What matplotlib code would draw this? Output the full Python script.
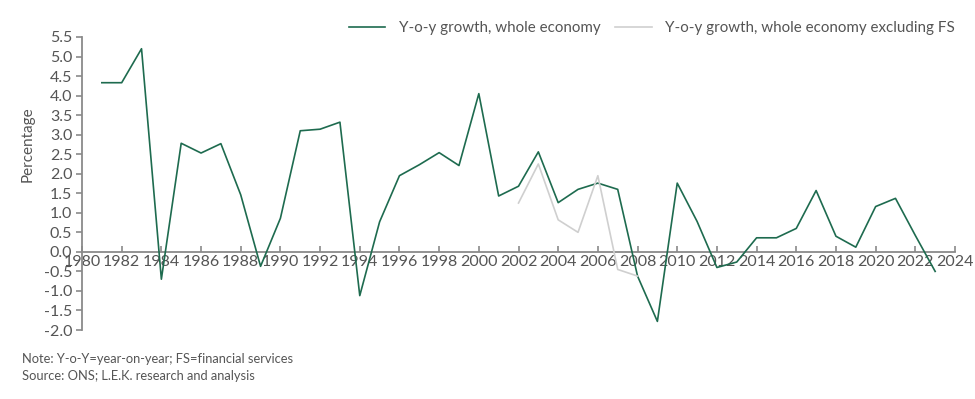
import matplotlib

matplotlib.use("Agg")
import matplotlib.pyplot as plt
import numpy as np

# data
years = list(range(1981, 2024))
whole = [4.33, 4.33, 5.2, -0.7, 2.78, 2.53, 2.77, 1.46, -0.37, 0.86,
         3.1, 3.14, 3.32, -1.12, 0.77, 1.95, 2.23, 2.54, 2.21, 4.05,
         1.43, 1.68, 2.56, 1.26, 1.6, 1.76, 1.6, -0.62, -1.78, 1.76,
         0.78, -0.4, -0.26, 0.36, 0.36, 0.6, 1.57, 0.4, 0.12, 1.16,
         1.37, 0.42, -0.5]
years_ex = list(range(2002, 2009))
excl_fs = [1.25, 2.25, 0.82, 0.5, 1.95, -0.45, -0.62]

xticks = list(range(1980, 2025, 2))
yticks = np.arange(-2.0, 5.51, 0.5)

green = '#1e6b4f'
grey = '#cfcfcf'
txt = '#555555'
axcol = '#8a8a8a'

plt.rcParams['font.family'] = ['Lato', 'DejaVu Sans']

fig = plt.figure(figsize=(9.75, 3.99), dpi=100)
ax = fig.add_axes([82 / 975, 1 - 330 / 399, (955 - 82) / 975, (330 - 37) / 399])

ax.plot(years, whole, color=green, lw=1.2, zorder=3,
        label='Y-o-y growth, whole economy')
ax.plot(years_ex, excl_fs, color=grey, lw=1.2, zorder=3,
        label='Y-o-y growth, whole economy excluding FS')

ax.set_xlim(1980, 2024)
ax.set_ylim(-2.0, 5.5)
ax.set_xticks(xticks)
ax.set_yticks(yticks)
ax.set_yticklabels(['%.1f' % v for v in yticks])

for s in ['top', 'right']:
    ax.spines[s].set_visible(False)
ax.spines['bottom'].set_position(('data', 0))
for s in ['bottom', 'left']:
    ax.spines[s].set_color(axcol)
    ax.spines[s].set_linewidth(1.3)

ax.tick_params(axis='x', direction='in', length=4, width=1.2, color=axcol,
               labelsize=11.5, labelcolor=txt, pad=2)
ax.tick_params(axis='y', direction='out', length=4, width=1.2, color=axcol,
               labelsize=11.5, labelcolor=txt, pad=3)
for lbl in ax.get_xticklabels():
    lbl.set_bbox(dict(facecolor='white', edgecolor='none', pad=0.3))

ax.set_ylabel('Percentage', color=txt, fontsize=11)
ax.yaxis.set_label_coords(-0.054, 4.75 / 7.5)

ax.legend(loc='center right', bbox_to_anchor=(1.0, 1 + 9 / 293), ncol=2,
          frameon=False, fontsize=10.9, labelcolor=txt, handlelength=2.4,
          columnspacing=1.0, handletextpad=0.9, borderaxespad=0.0,
          borderpad=0.0)

fig.text(22 / 975, 1 - 359 / 399, 'Note: Y-o-Y=year-on-year; FS=financial services',
         color=txt, fontsize=9.3, va='center')
fig.text(22 / 975, 1 - 376 / 399, 'Source: ONS; L.E.K. research and analysis',
         color=txt, fontsize=9.3, va='center')

fig.savefig('out.png', dpi=100, facecolor='white')
